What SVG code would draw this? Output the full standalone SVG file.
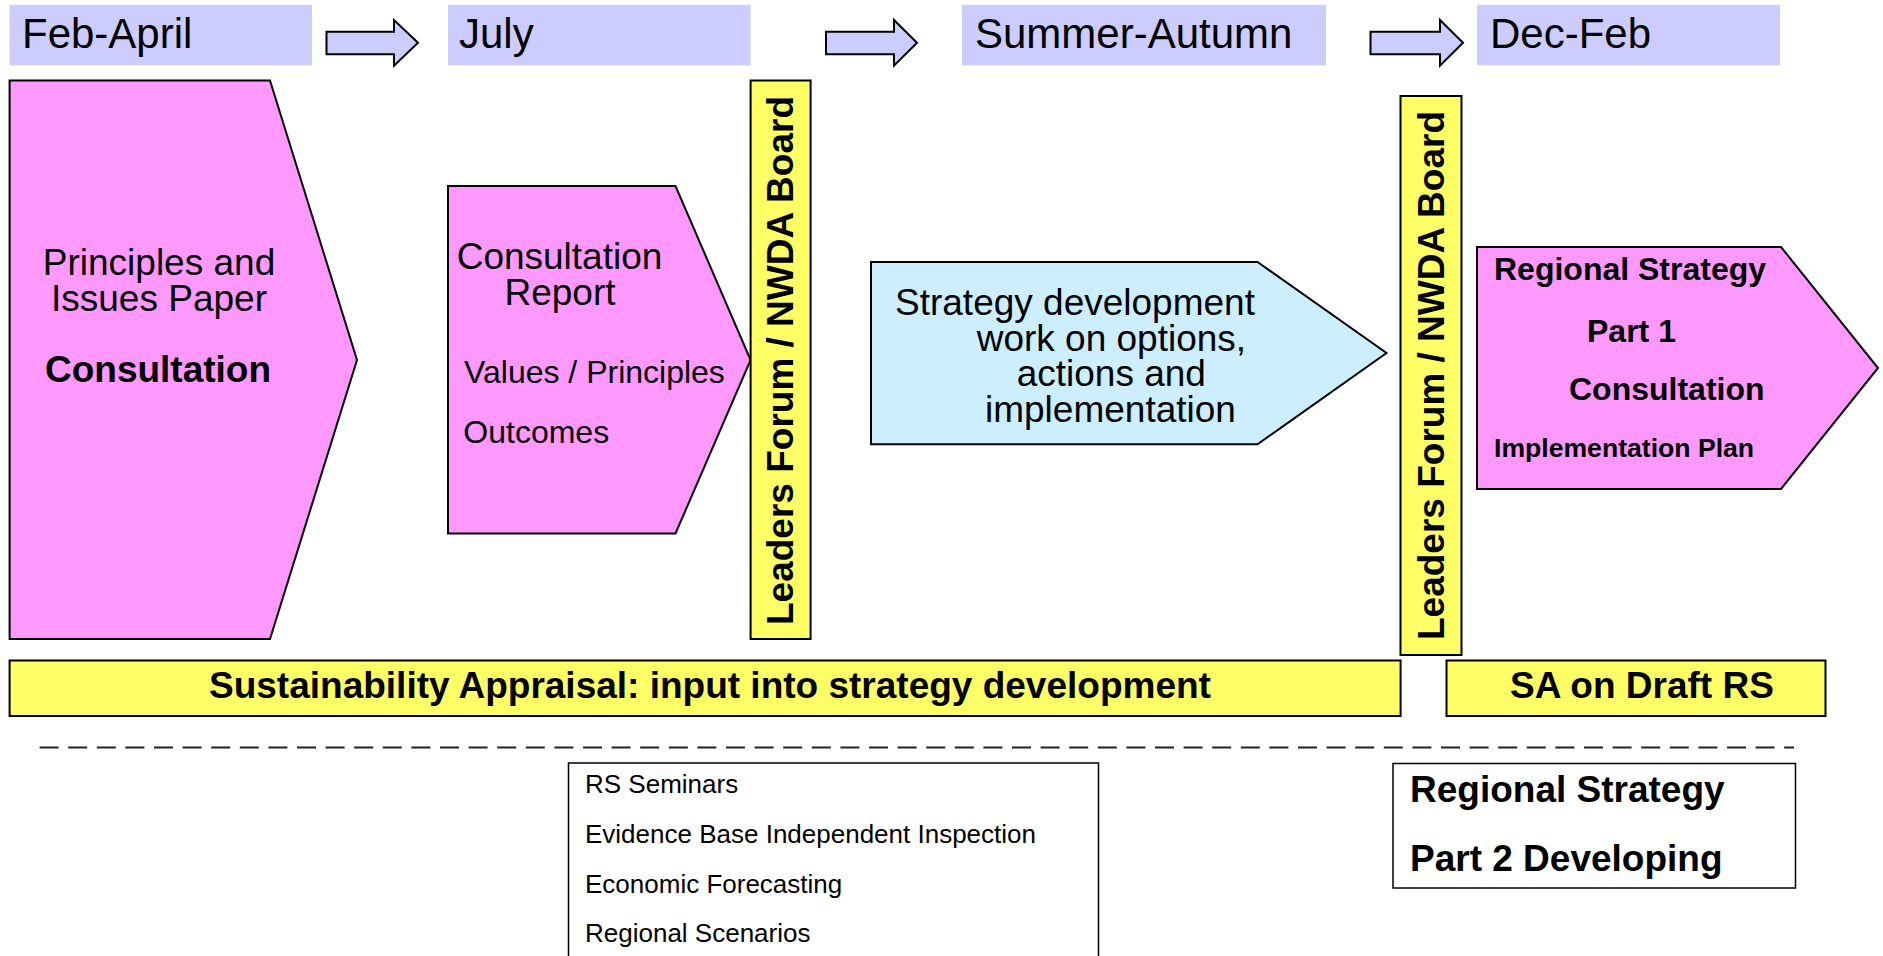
<svg xmlns="http://www.w3.org/2000/svg" width="1883" height="956" viewBox="0 0 1883 956">
<style>
  text { font-family: "Liberation Sans", Arial, sans-serif; fill: #000; }
  .hdr { fill: #ccccff; stroke: none; }
  .hdrt { font-size: 42px; }
  .arr { fill: #ccccff; stroke: #000; stroke-width: 2; stroke-linejoin: miter; }
  .pink { fill: #ff99ff; stroke: #000; stroke-width: 2; }
  .blue { fill: #cceeff; stroke: #000; stroke-width: 2; }
  .yel { fill: #ffff66; stroke: #000; stroke-width: 2; }
  .box { fill: #ffffff; stroke: #000; stroke-width: 1.5; }
  .b { font-weight: bold; }
  .t37 { font-size: 37px; }
  .t32 { font-size: 32px; }
  .t26 { font-size: 26px; }
</style>

<g id="headers">
  <g id="hdr-feb-april"><rect class="hdr" x="9.6" y="4.8" width="302.4" height="60.5"/><text class="hdrt" x="22" y="48">Feb-April</text></g>
  <g id="hdr-july"><rect class="hdr" x="448" y="4.8" width="302.6" height="60.5"/><text class="hdrt" x="459" y="48">July</text></g>
  <g id="hdr-summer"><rect class="hdr" x="962" y="4.8" width="364" height="60.5"/><text class="hdrt" x="975" y="48">Summer-Autumn</text></g>
  <g id="hdr-dec-feb"><rect class="hdr" x="1477" y="4.8" width="303" height="60.5"/><text class="hdrt" x="1490" y="48">Dec-Feb</text></g>
</g>

<g id="connectors">
  <polygon class="arr" points="326.5,31.7 394,31.7 394,20 418,42.8 394,65.7 394,54.3 326.5,54.3"/>
  <polygon class="arr" points="826,31.7 894,31.7 894,20 917,42.8 894,65.7 894,54.3 826,54.3"/>
  <polygon class="arr" points="1370.5,31.7 1440,31.7 1440,20 1463,42.8 1440,65.7 1440,54.3 1370.5,54.3"/>
</g>

<g id="principles-paper">
  <polygon class="pink" points="9.6,80.5 270,80.5 357,360 270,639 9.6,639"/>
  <text class="t37" x="159" y="275" text-anchor="middle">Principles and</text>
  <text class="t37" x="159" y="310.7" text-anchor="middle">Issues Paper</text>
  <text class="t37 b" x="158" y="381.7" text-anchor="middle">Consultation</text>
</g>

<g id="consultation-report">
  <polygon class="pink" points="448,186 675.5,186 750.6,360 675.5,533.5 448,533.5"/>
  <text class="t37" x="559.5" y="269.3" text-anchor="middle">Consultation</text>
  <text class="t37" x="560" y="305" text-anchor="middle">Report</text>
  <text class="t32" x="464" y="383.3">Values / Principles</text>
  <text class="t32" x="463.3" y="443">Outcomes</text>
</g>

<g id="strategy-development">
  <polygon class="blue" points="871,262 1257.5,262 1386.5,353 1257.5,444.3 871,444.3"/>
  <text class="t37" x="895" y="315">Strategy development</text>
  <text class="t37" x="976.7" y="350.5">work on options,</text>
  <text class="t37" x="1016.7" y="386">actions and</text>
  <text class="t37" x="985" y="421.7">implementation</text>
</g>

<g id="rs-part1">
  <polygon class="pink" points="1477,247 1781,247 1878,368 1781,489 1477,489"/>
  <text class="t32 b" x="1494" y="280">Regional Strategy</text>
  <text class="t32 b" x="1587" y="341.7">Part 1</text>
  <text class="t32 b" x="1569" y="400">Consultation</text>
  <text class="b" font-size="26.6" x="1494" y="457">Implementation Plan</text>
</g>

<g id="leaders-forum-1">
  <rect class="yel" x="750.6" y="80.5" width="60" height="558.5"/>
  <text class="t37 b" transform="translate(793,360.5) rotate(-90)" text-anchor="middle">Leaders Forum / NWDA Board</text>
</g>

<g id="leaders-forum-2">
  <rect class="yel" x="1400.5" y="96" width="61" height="559"/>
  <text class="t37 b" transform="translate(1443.5,375.5) rotate(-90)" text-anchor="middle">Leaders Forum / NWDA Board</text>
</g>

<g id="sa-input">
  <rect class="yel" x="9.6" y="660.5" width="1391" height="55.5"/>
  <text class="t37 b" x="209" y="697.7">Sustainability Appraisal: input into strategy development</text>
</g>

<g id="sa-draft">
  <rect class="yel" x="1446.5" y="660.5" width="379" height="55.5"/>
  <text class="t37 b" x="1510" y="698">SA on Draft RS</text>
</g>

<g id="divider">
  <line x1="39.6" y1="747.5" x2="1794" y2="747.5" stroke="#222" stroke-width="2" stroke-dasharray="19 9.6"/>
</g>

<g id="evidence-box">
  <rect class="box" x="568.5" y="763" width="530" height="200"/>
  <text class="t26" x="585" y="793.3">RS Seminars</text>
  <text class="t26" x="585" y="843.3">Evidence Base Independent Inspection</text>
  <text class="t26" x="585" y="893.3">Economic Forecasting</text>
  <text class="t26" x="585" y="941.7">Regional Scenarios</text>
</g>

<g id="rs-part2">
  <rect class="box" x="1393" y="763.5" width="402.5" height="124.5"/>
  <text class="t37 b" x="1410" y="801.7">Regional Strategy</text>
  <text class="t37 b" x="1410" y="870.7">Part 2 Developing</text>
</g>
</svg>
